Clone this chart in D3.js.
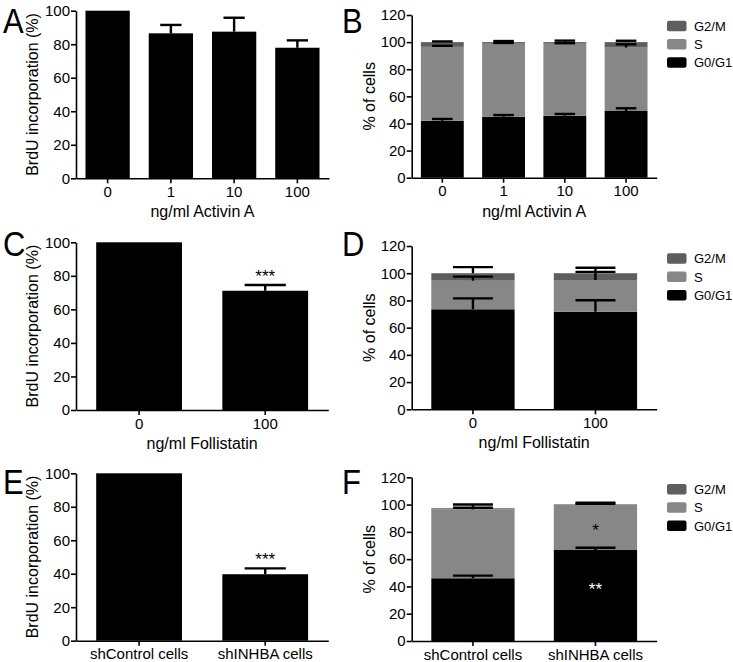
<!DOCTYPE html>
<html><head><meta charset="utf-8">
<script src="https://cdn.jsdelivr.net/npm/d3@7"></script>
<style>
body{margin:0;background:#fff}
svg{display:block}
text{font-family:"Liberation Sans",Arial,Helvetica,sans-serif;fill:#000}
</style>
</head><body>
<svg id="chart" width="733" height="662"></svg>
<script>
// ---------------- DATA ----------------
// Panel A: BrdU incorporation vs Activin A
const catsA = ["0", "1", "10", "100"];
const brduA = [100, 86.5, 87.5, 77.9];
const brduAErr = [0, 5.0, 8.3, 4.4];
const sigA = ["", "", "", ""];

// Panel C: BrdU incorporation vs Follistatin
const catsC = ["0", "100"];
const brduC = [100, 71.1];
const brduCErr = [0, 3.4];
const sigC = ["", "***"];

// Panel E: BrdU incorporation, shRNA
const catsE = ["shControl cells", "shINHBA cells"];
const brduE = [100, 39.7];
const brduEErr = [0, 3.5];
const sigE = ["", "***"];

// Cell-cycle phases (stack order bottom -> top)
const phases = ["G0/G1", "S", "G2/M"];
const phaseColors = ["#000000", "#878787", "#5e5e5e"];
const legendOrder = ["G2/M", "S", "G0/G1"];

// Panel B
const catsB = ["0", "1", "10", "100"];
const g0g1B = [42.0, 45.0, 45.7, 49.2];
const g0g1BErr = [1.3, 1.2, 1.3, 2.0];
const sB = [54.5, 53.8, 53.1, 46.8];
const sBErr = [0.8, 0.6, 0.4, 2.4];
const g2mB = [3.5, 1.2, 1.2, 4.0];
const g2mBErr = [0.5, 0.8, 1.1, 1.0];

// Panel D
const catsD = ["0", "100"];
const g0g1D = [73.5, 71.7];
const g0g1DErr = [8.0, 8.4];
const sD = [21.0, 23.3];
const sDErr = [3.0, 6.0];
const g2mD = [5.5, 5.0];
const g2mDErr = [4.5, 4.0];

// Panel F
const catsF = ["shControl cells", "shINHBA cells"];
const g0g1F = [46.0, 66.7];
const g0g1FErr = [1.9, 1.7];
const sF = [50.5, 33.3];
const sFErr = [1.2, 0.5];
const g2mF = [0.8, 0.3];
const g2mFErr = [2.8, 1.0];
const sigFG0G1 = ["", "**"];
const sigFS = ["", "*"];

const ticksBrdU = [0, 20, 40, 60, 80, 100];
const ticksCells = [0, 20, 40, 60, 80, 100, 120];

// ---------------- DRAWING ----------------
const FONT = "'Liberation Sans', Arial, sans-serif";
const svg = d3.select("#chart");
svg.append("rect").attr("width", 733).attr("height", 662).attr("fill", "#fff");

const AXIS_W = 1.6, ERR_W = 2.4;

function axes(g, x, y, ticks, xTitle, axisX0) {
  const yAx = g.append("g").attr("transform", `translate(${axisX0},0)`)
    .call(d3.axisLeft(y).tickValues(ticks).tickSize(5).tickSizeOuter(0).tickPadding(1));
  const xAx = g.append("g").attr("transform", `translate(0,${y(0)})`)
    .call(d3.axisBottom(x).tickSize(5).tickSizeOuter(0).tickPadding(3));
  [yAx, xAx].forEach(a => {
    a.attr("font-family", null).attr("font-size", null);
    a.selectAll("path,line").attr("stroke", "#000").attr("stroke-width", AXIS_W);
    a.selectAll("text").attr("font-size", 15).attr("fill", "#000").style("font-family", FONT);
  });
  if (xTitle) {
    const r = x.range();
    g.append("text").attr("x", (r[0] + r[1]) / 2).attr("y", y(0) + 39)
      .attr("text-anchor", "middle").attr("font-size", 16).text(xTitle);
  }
}

function yTitle(g, text, x, y) {
  const r = y.range();
  g.append("text").attr("transform", `translate(${x},${(r[0] + r[1]) / 2}) rotate(-90)`)
    .attr("text-anchor", "middle").attr("font-size", 16).text(text);
}

function errBar(g, cx, y, from, to, cap) {
  g.append("line").attr("x1", cx).attr("x2", cx).attr("y1", y(from)).attr("y2", y(to))
    .attr("stroke", "#000").attr("stroke-width", ERR_W);
  g.append("line").attr("x1", cx - cap / 2).attr("x2", cx + cap / 2).attr("y1", y(to)).attr("y2", y(to))
    .attr("stroke", "#000").attr("stroke-width", ERR_W);
}

function panelLetter(t, x, y) {
  svg.append("text").attr("transform", `translate(${x},${y}) scale(0.86,1)`)
    .attr("font-size", 36).text(t);
}

function simplePanel(o) {
  const g = svg.append("g");
  const x = d3.scaleBand().domain(o.cats).range([o.x0, o.x1])
    .paddingInner(o.pad).paddingOuter(o.pad / 2);
  const y = d3.scaleLinear().domain([0, 100]).range([o.yBot, o.yTop]);
  g.selectAll("rect.bar").data(o.cats).enter().append("rect")
    .attr("x", d => x(d)).attr("width", x.bandwidth())
    .attr("y", (d, i) => y(o.vals[i])).attr("height", (d, i) => y(0) - y(o.vals[i]))
    .attr("fill", "#000");
  o.cats.forEach((c, i) => {
    const cx = x(c) + x.bandwidth() / 2;
    if (o.errs[i] > 0) errBar(g, cx, y, o.vals[i], o.vals[i] + o.errs[i], x.bandwidth() * 0.48);
    if (o.sig[i]) {
      g.append("text").attr("x", cx).attr("y", y(o.vals[i] + o.errs[i]) - 3)
        .attr("text-anchor", "middle").attr("font-size", 17).text(o.sig[i]);
    }
  });
  axes(g, x, y, ticksBrdU, o.xTitle, o.x0);
  yTitle(g, "BrdU incorporation (%)", 38, y);
}

function stackedPanel(o) {
  const g = svg.append("g");
  const x = d3.scaleBand().domain(o.cats).range([o.x0, o.x1])
    .paddingInner(o.pad).paddingOuter(o.pad / 2);
  const y = d3.scaleLinear().domain([0, 120]).range([o.yBot, o.yTop]);
  const rows = o.cats.map((c, i) => {
    const r = { cat: c };
    phases.forEach((p, k) => { r[p] = o.series[k][i]; });
    return r;
  });
  const stack = d3.stack().keys(phases)(rows);
  stack.forEach((layer, k) => {
    g.selectAll(null).data(layer).enter().append("rect")
      .attr("x", d => x(d.data.cat)).attr("width", x.bandwidth())
      .attr("y", d => y(d[1])).attr("height", d => y(d[0]) - y(d[1]))
      .attr("fill", phaseColors[k]);
  });
  stack.forEach((layer, k) => {
    layer.forEach((d, i) => {
      const cx = x(d.data.cat) + x.bandwidth() / 2;
      const e = o.errs[k][i];
      if (e > 0) errBar(g, cx, y, d[1], d[1] + e, x.bandwidth() * 0.48);
    });
  });
  if (o.sig) {
    o.sig.forEach(s => {
      s.labels.forEach((lab, i) => {
        if (!lab) return;
        const d = stack[s.k][i];
        const cx = x(d.data.cat) + x.bandwidth() / 2;
        const v = d[0] + (d[1] - d[0]) * s.frac;
        g.append("text").attr("x", cx).attr("y", y(v) + 9).attr("text-anchor", "middle")
          .attr("font-size", 17).style("fill", s.color).text(lab);
      });
    });
  }
  axes(g, x, y, ticksCells, o.xTitle, o.x0);
  yTitle(g, "% of cells", 375, y);
  // legend
  const lg = g.append("g");
  legendOrder.forEach((p, j) => {
    const k = phases.indexOf(p);
    const yy = o.legendY + j * 18.3;
    lg.append("rect").attr("x", 667).attr("y", yy).attr("width", 19.5).attr("height", 10.5)
      .attr("rx", 2).attr("fill", phaseColors[k]);
    lg.append("text").attr("x", 694).attr("y", yy + 10).attr("font-size", 13).text(p);
  });
}

simplePanel({ cats: catsA, vals: brduA, errs: brduAErr, sig: sigA, x0: 76, x1: 329, yTop: 10.7, yBot: 178.3, pad: 0.30, xTitle: "ng/ml Activin A" });
simplePanel({ cats: catsC, vals: brduC, errs: brduCErr, sig: sigC, x0: 76, x1: 328.3, yTop: 242.3, yBot: 410, pad: 0.32, xTitle: "ng/ml Follistatin" });
simplePanel({ cats: catsE, vals: brduE, errs: brduEErr, sig: sigE, x0: 76, x1: 328.3, yTop: 473.3, yBot: 640.7, pad: 0.32, xTitle: null });

stackedPanel({ cats: catsB, series: [g0g1B, sB, g2mB], errs: [g0g1BErr, sBErr, g2mBErr], x0: 411.7, x1: 656.7, yTop: 15, yBot: 177.7, pad: 0.30, xTitle: "ng/ml Activin A", legendY: 20.7 });
stackedPanel({ cats: catsD, series: [g0g1D, sD, g2mD], errs: [g0g1DErr, sDErr, g2mDErr], x0: 411.7, x1: 656.7, yTop: 246, yBot: 409.3, pad: 0.32, xTitle: "ng/ml Follistatin", legendY: 253.3 });
stackedPanel({ cats: catsF, series: [g0g1F, sF, g2mF], errs: [g0g1FErr, sFErr, g2mFErr], x0: 411.7, x1: 656.7, yTop: 477.3, yBot: 641, pad: 0.32, xTitle: null, legendY: 484,
  sig: [{ k: 1, labels: sigFS, frac: 0.5, color: "#000" }, { k: 0, labels: sigFG0G1, frac: 0.6, color: "#fff" }] });

panelLetter("A", 3, 33);
panelLetter("B", 342, 33);
panelLetter("C", 3, 256);
panelLetter("D", 342, 256);
panelLetter("E", 3, 494);
panelLetter("F", 342, 494);
</script>
</body></html>
